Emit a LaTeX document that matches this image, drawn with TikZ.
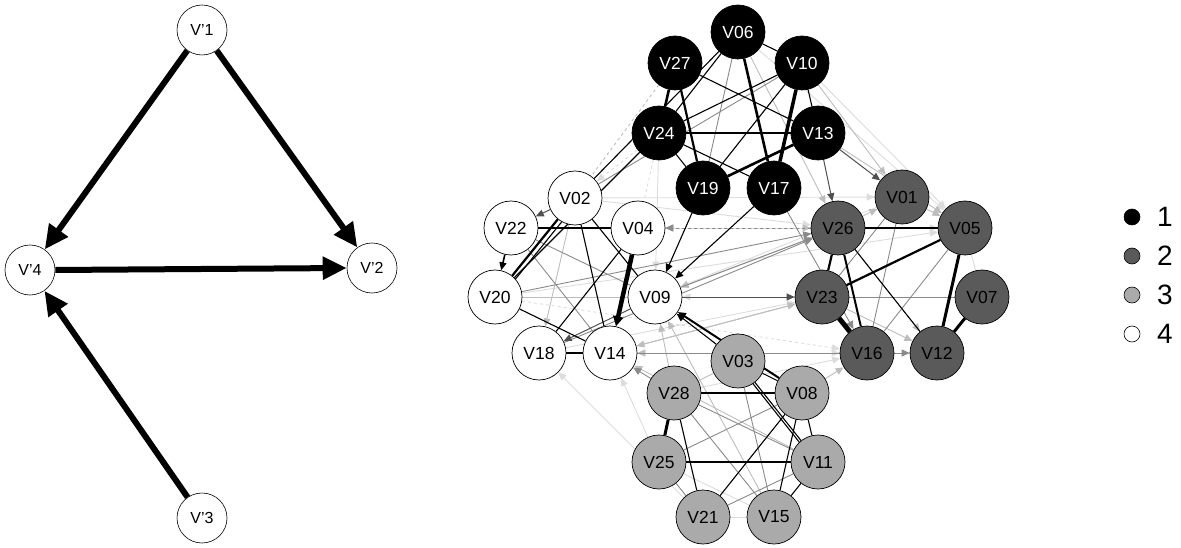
\documentclass[tikz,border=0pt]{standalone}
\usepackage{fontspec}
\setmainfont{Liberation Sans}
\usetikzlibrary{arrows.meta,backgrounds}
\definecolor{ctwo}{HTML}{5A5A5A}
\definecolor{cthree}{HTML}{AAAAAA}
\definecolor{edark}{HTML}{505050}
\definecolor{emid}{HTML}{8A8A8A}
\definecolor{elight}{HTML}{BDBDBD}
\definecolor{evlight}{HTML}{DCDCDC}
\tikzset{
  pnode/.style={circle,draw=black,line width=0.6pt,fill=white,minimum size=50pt,inner sep=0pt,font=\fontsize{16}{18}\selectfont},
  gnode/.style={circle,draw=black,line width=0.7pt,minimum size=54pt,inner sep=0pt,font=\fontsize{17.5}{19}\selectfont},
  gone/.style={gnode,fill=black,text=white},
  gtwo/.style={gnode,fill=ctwo},
  gthree/.style={gnode,fill=cthree},
  gfour/.style={gnode,fill=white},
  bigarrow/.style={line width=6pt,-{Triangle[length=24pt,width=22pt]}},
  tip/.style={-{Triangle[length=8pt,width=7pt]}},
  eb/.style={draw=black,line width=1.1pt},
  ebt/.style={draw=black,line width=2.6pt},
  ebtt/.style={draw=black,line width=4.5pt},
  ed/.style={draw=edark,line width=1pt},
  em/.style={draw=emid,line width=0.9pt},
  el/.style={draw=elight,line width=0.9pt},
  evl/.style={draw=evlight,line width=0.9pt},
  legdot/.style={circle,draw=black,line width=0.6pt,minimum size=16pt,inner sep=0pt},
  legtxt/.style={anchor=west,font=\fontsize{28}{30}\selectfont,inner sep=0pt}
}
\begin{document}
\begin{tikzpicture}[x=1pt,y=-1pt]
\useasboundingbox (0,0) rectangle (1181,548);
% ---------- left graph ----------
\node[pnode] (p1) at (202,30) {V'1};
\node[pnode] (p2) at (372,268) {V'2};
\node[pnode] (p3) at (202,518) {V'3};
\node[pnode] (p4) at (30,270) {V'4};
\draw[bigarrow] (p1) -- (p4);
\draw[bigarrow] (p1) -- (p2);
\draw[bigarrow] (p4.east) -- (p2.west);
\draw[bigarrow] (p3) -- (p4);
% ---------- right graph nodes ----------
\node[gone] (V06) at (738,32) {V06};
\node[gone] (V27) at (675,63) {V27};
\node[gone] (V10) at (802,63) {V10};
\node[gone] (V24) at (659,133) {V24};
\node[gone] (V13) at (818,133) {V13};
\node[gone] (V19) at (703,188) {V19};
\node[gone] (V17) at (774,188) {V17};
\node[gtwo] (V01) at (902,197) {V01};
\node[gtwo] (V26) at (838,228) {V26};
\node[gtwo] (V05) at (965,228) {V05};
\node[gtwo] (V23) at (822,297) {V23};
\node[gtwo] (V07) at (982,297) {V07};
\node[gtwo] (V16) at (867,353) {V16};
\node[gtwo] (V12) at (937,353) {V12};
\node[gthree] (V03) at (738,361) {V03};
\node[gthree] (V28) at (674,393) {V28};
\node[gthree] (V08) at (802,393) {V08};
\node[gthree] (V25) at (659,462) {V25};
\node[gthree] (V11) at (818,462) {V11};
\node[gthree] (V21) at (703,517) {V21};
\node[gthree] (V15) at (774,517) {V15};
\node[gfour] (V02) at (575,198) {V02};
\node[gfour] (V22) at (511,228) {V22};
\node[gfour] (V04) at (638,228) {V04};
\node[gfour] (V20) at (495,297) {V20};
\node[gfour] (V09) at (655,297) {V09};
\node[gfour] (V18) at (539,353) {V18};
\node[gfour] (V14) at (610,353) {V14};
% ---------- right graph edges ----------
\begin{scope}[on background layer]
\draw[evl,tip] (V24) -- (V09);
\draw[evl,tip,dashed] (V27) -- (V14);
\draw[evl,tip] (V06) -- (V05);
\draw[evl,tip] (V02) -- (V01);
\draw[evl,tip] (V22) -- (V05);
\draw[evl,tip] (V12) -- (V14);
\draw[evl,tip] (V14) -- (V16);
\draw[evl,tip] (V28) -- (V16);
\draw[evl,tip] (V01) -- (V09);
\draw[evl,tip] (V21) -- (V18);
\draw[evl,tip] (V20) -- (V05);
\draw[evl,tip,dashed] (V20) -- (V16);
\draw[evl,tip] (V18) -- (V23);
\draw[evl,tip] (V02) -- (V26);
\draw[evl,tip] (V25) -- (V14);
\draw[evl,tip] (V07) -- (V09);
\draw[evl] (V21) -- (V15);
\draw[evl] (V25) -- (V15);
\draw[evl] (V16) -- (V12);
\draw[evl] (V05) -- (V07);
\draw[evl,tip] (V10) -- (V05);
\draw[evl,tip,dashed] (V24) -- (V02);
\draw[el,tip] (V28) -- (V09);
\draw[el,tip] (V11) -- (V14);
\draw[el,tip] (V15) -- (V09);
\draw[el,tip] (V26) -- (V09);
\draw[el,tip] (V23) -- (V14);
\draw[el,tip] (V16) -- (V14);
\draw[el,tip,dashed] (V05) -- (V04);
\draw[el,tip,dashed] (V04) -- (V26);
\draw[el,tip] (V13) -- (V05);
\draw[el,tip] (V10) -- (V01);
\draw[el,tip] (V26) -- (V01);
\draw[el,tip] (V01) -- (V05);
\draw[el,tip,dashed] (V26) -- (V12);
\draw[el,tip] (V23) -- (V12);
\draw[el,dashed] (V27) -- (V02);
\draw[el] (V20) -- (V09);
\draw[el] (V03) -- (V28);
\draw[el,tip] (V08) -- (V16);
\draw[el,tip] (V02) -- (V18);
\draw[el,tip] (V06) -- (V26);
\draw[el,tip] (V14) -- (V23);
\draw[em,tip] (V20) -- (V26);
\draw[em,tip] (V18) -- (V26);
\draw[em,tip] (V09) -- (V26);
\draw[em,tip] (V14) -- (V12);
\draw[em,tip,dashed] (V26) -- (V04);
\draw[em,tip] (V28) -- (V14);
\draw[em,tip] (V17) -- (V16);
\draw[em] (V06) -- (V19);
\draw[em] (V10) -- (V02);
\draw[em] (V22) -- (V14);
\draw[em] (V22) -- (V09);
\draw[em] (V23) -- (V07);
\draw[em] (V01) -- (V16);
\draw[em] (V05) -- (V16);
\draw[em] (V01) -- (V23);
\draw[em] (V28) -- (V11);
\draw[em] (V25) -- (V08);
\draw[em] (V11) -- (V21);
\draw[em] (V25) -- (V21);
\draw[em] (V03) -- (V15);
\draw[em] (V28) -- (V15);
\draw[ed,tip] (V13) -- (V26);
\draw[ed,tip] (V13) -- (V01);
\draw[ed,tip] (V09) -- (V23);
\draw[ed,tip] (V09) -- (V18);
\draw[ed,tip] (V02) -- (V22);
\draw[eb] (V06) -- (V10);
\draw[eb] (V06) -- (V24);
\draw[eb] (V06) -- (V02);
\draw[eb] (V27) -- (V13);
\draw[eb] (V24) -- (V13);
\draw[eb] (V24) -- (V19);
\draw[eb] (V24) -- (V17);
\draw[eb] (V10) -- (V24);
\draw[eb] (V10) -- (V19);
\draw[eb] (V10) -- (V13);
\draw[eb] (V24) -- (V20);
\draw[eb,tip] (V19) -- (V09);
\draw[eb,tip] (V17) -- (V09);
\draw[eb,line width=1.6pt,tip] (V22) -- (V20);
\draw[eb] (V02) -- (V14);
\draw[eb] (V02) -- (V09);
\draw[eb] (V04) -- (V18);
\draw[eb] (V20) -- (V14);
\draw[eb] (V18) -- (V14);
\draw[eb] (V22) -- (V04);
\draw[eb] (V28) -- (V08);
\draw[eb] (V25) -- (V11);
\draw[eb] (V28) -- (V21);
\draw[eb] (V03) -- (V08);
\draw[eb] ([xshift=-3pt]V03.center) -- ([xshift=-3pt]V11.center);
\draw[eb] (V03) -- (V11);
\draw[eb] (V08) -- (V15);
\draw[eb] (V08) -- (V21);
\draw[eb] (V08) -- (V11);
\draw[eb] (V11) -- (V15);
\draw[eb] (V26) -- (V12);
\draw[eb,tip] (V03) -- (V09);
\draw[eb,line width=2pt,tip] (V08) -- (V09);
\draw[ebt] (V06) -- (V17);
\draw[ebt] (V27) -- (V24);
\draw[ebt,line width=2.2pt] (V27) -- (V19);
\draw[ebt,line width=3.5pt] (V10) -- (V17);
\draw[ebt] (V13) -- (V19);
\draw[ebt,line width=2.2pt] (V02) -- (V20);
\draw[eb] ([xshift=6pt]V02.center) -- ([xshift=6pt]V20.center);
\draw[ebtt,-{Triangle[length=10pt,width=10pt]}] (V04) -- (V14);
\draw[ebt,line width=3pt] (V28) -- (V25);
\draw[ebt,line width=2.2pt] (V26) -- (V05);
\draw[ebt,line width=2.2pt] (V23) -- (V05);
\draw[ebt,line width=2.2pt] (V26) -- (V23);
\draw[ebt,line width=2pt] (V26) -- (V16);
\draw[ebtt,line width=5pt] (V23) -- (V16);
\draw[ebt,line width=3pt] (V05) -- (V12);
\draw[ebt,line width=3pt] (V07) -- (V12);
\end{scope}
% ---------- legend ----------
\node[legdot,fill=black] (l1) at (1132,217) {};
\node[legdot,fill=ctwo] (l2) at (1132,256) {};
\node[legdot,fill=cthree] (l3) at (1132,295) {};
\node[legdot,fill=white] (l4) at (1132,334) {};
\node[legtxt] (t1) at (1157,217) {1};
\node[legtxt] (t2) at (1157,256) {2};
\node[legtxt] (t3) at (1157,295) {3};
\node[legtxt] (t4) at (1157,334) {4};
\end{tikzpicture}
\end{document}
